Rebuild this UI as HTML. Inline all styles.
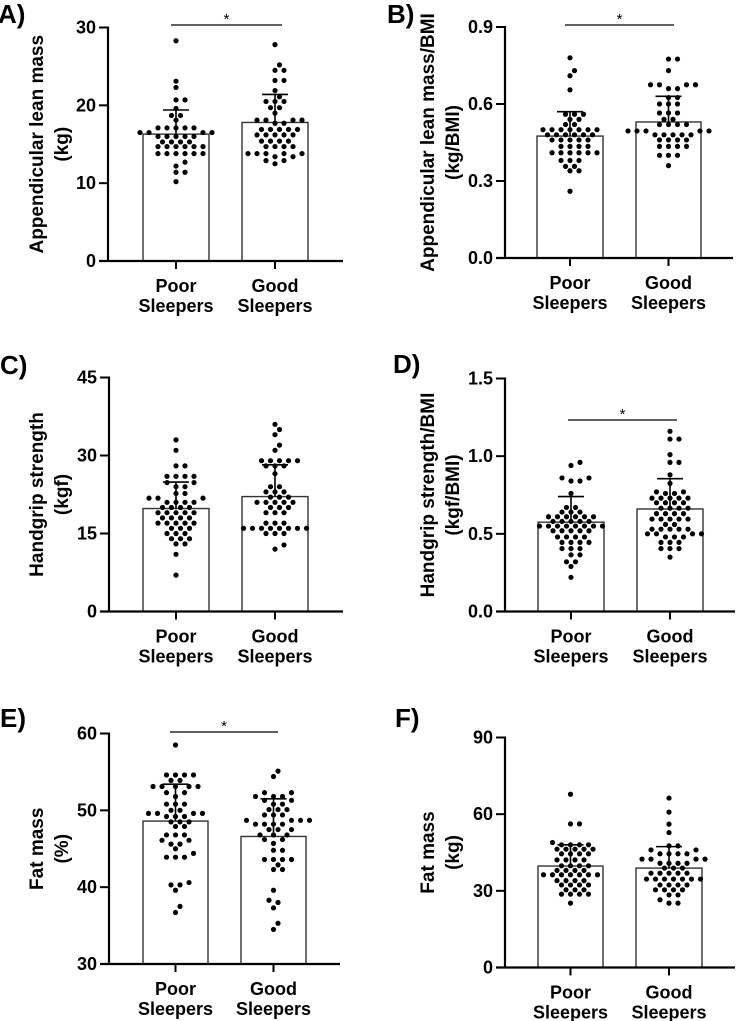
<!DOCTYPE html>
<html><head><meta charset="utf-8"><style>
html,body{margin:0;padding:0;background:#fff;}
svg{display:block;font-family:"Liberation Sans",Arial,sans-serif;font-weight:bold;}
</style></head><body>
<svg id="chart" width="739" height="1021" viewBox="0 0 739 1021" xmlns="http://www.w3.org/2000/svg"></svg>
<script>
const categories = ["Poor", "Good"];
// Panel A
const aPoor = [28.3,23.1,22.3,20.7,20.7,19.6,18.7,18.7,18.1,17.1,17.1,17.1,17.1,17.1,16.5,16.5,16.5,16.5,16.0,16.0,16.0,16.0,16.0,15.3,15.3,15.3,15.3,14.7,14.7,14.7,14.7,14.7,14.7,13.8,13.8,13.8,13.8,13.8,13.8,12.7,12.2,11.4,11.4,10.2];
const aGood = [27.8,25.2,24.5,24.5,23.2,23.2,21.9,21.1,20.5,20.5,20.5,19.7,19.7,19.0,18.1,18.1,18.1,18.1,17.7,17.7,16.9,16.9,16.9,16.9,16.9,16.2,16.2,16.2,16.2,16.2,15.4,15.4,15.4,15.4,14.7,14.7,14.7,14.7,13.8,13.8,13.8,13.8,13.8,13.4,13.4,12.9,12.9,12.5];
const aMeans = [16.3, 17.8];
const aSD = [3.1, 3.6];
const aTicks = [0, 10, 20, 30];
const aTickLabels = ["0", "10", "20", "30"];
// Panel B
const bPoor = [0.78,0.73,0.71,0.655,0.56,0.56,0.56,0.54,0.54,0.52,0.52,0.50,0.50,0.50,0.50,0.50,0.50,0.50,0.48,0.48,0.48,0.48,0.48,0.48,0.46,0.46,0.46,0.46,0.46,0.435,0.435,0.435,0.435,0.41,0.41,0.41,0.41,0.41,0.41,0.38,0.38,0.38,0.357,0.357,0.34,0.34,0.26];
const bGood = [0.775,0.775,0.73,0.675,0.675,0.675,0.675,0.66,0.66,0.625,0.625,0.60,0.60,0.60,0.565,0.565,0.565,0.54,0.54,0.52,0.52,0.52,0.52,0.495,0.495,0.495,0.495,0.495,0.48,0.48,0.48,0.48,0.48,0.46,0.46,0.46,0.46,0.435,0.435,0.435,0.435,0.40,0.40,0.40,0.36];
const bMeans = [0.475, 0.53];
const bSD = [0.095, 0.1];
const bTicks = [0, 0.3, 0.6, 0.9];
const bTickLabels = ["0.0", "0.3", "0.6", "0.9"];
// Panel C
const cPoor = [33,31,28,28,26,26,26,26,24.8,24.8,24,24,22.7,22.7,21.8,21.8,21.8,21,21,21,21,20,20,20,20,19,19,19,19,19,18,18,18,18,17,17,17,17,17,16,16,16,15,15,15,14,14,14,13,13,11,7];
const cGood = [36,35,34,32,31,29,29,29,29,29,28,28,28,26.5,24,24,23,23,23,22,22,22,21,21,21,21,21,20,20,20,19,19,19,17,17,17,16,16,16,16,16,16,16,16,15,15,15,12.8,12];
const cMeans = [19.8, 22.1];
const cSD = [5.1, 6.1];
const cTicks = [0, 15, 30, 45];
const cTickLabels = ["0", "15", "30", "45"];
// Panel D
const dPoor = [0.96,0.94,0.86,0.86,0.84,0.84,0.76,0.67,0.67,0.64,0.64,0.64,0.61,0.61,0.61,0.61,0.61,0.61,0.58,0.58,0.58,0.58,0.58,0.55,0.55,0.55,0.55,0.55,0.55,0.55,0.55,0.52,0.52,0.52,0.52,0.52,0.48,0.48,0.48,0.48,0.445,0.445,0.445,0.445,0.405,0.405,0.405,0.365,0.365,0.32,0.32,0.29,0.22];
const dGood = [1.16,1.11,1.11,1.01,0.96,0.96,0.88,0.825,0.77,0.77,0.76,0.76,0.73,0.73,0.73,0.73,0.73,0.70,0.70,0.70,0.70,0.665,0.665,0.665,0.665,0.63,0.63,0.63,0.63,0.595,0.595,0.595,0.595,0.595,0.56,0.56,0.53,0.53,0.53,0.53,0.53,0.50,0.50,0.50,0.50,0.48,0.48,0.48,0.445,0.445,0.445,0.405,0.405,0.405,0.35];
const dMeans = [0.575, 0.66];
const dSD = [0.165, 0.195];
const dTicks = [0, 0.5, 1.0, 1.5];
const dTickLabels = ["0.0", "0.5", "1.0", "1.5"];
// Panel E
const ePoor = [58.5,54.6,54.6,54.6,54.6,53.9,53.9,53.1,53.1,53.1,53.1,53.1,52.3,52.3,51.8,50.8,50.8,50.8,50.0,50.0,49.6,49.6,49.6,49.6,49.2,49.2,49.2,48.5,48.5,48.5,47.9,47.9,46.8,46.8,46.8,46.1,46.1,45.6,45.6,45.0,44.4,43.9,43.9,43.9,40.6,40.3,40.3,39.6,37.5,36.7];
const eGood = [55.1,54.4,52.3,52.3,51.8,51.8,51.8,51.3,51.3,50.8,50.8,50.1,50.1,50.1,49.4,49.4,49.4,48.7,48.7,48.7,48.7,48.2,48.2,48.2,48.2,47.5,47.5,47.5,46.8,46.8,46.8,46.2,46.2,45.7,44.8,44.8,43.6,43.6,43.6,43.6,42.9,42.3,42.3,39.6,38.3,38.0,37.3,35.3,34.5];
const eMeans = [48.6, 46.6];
const eSD = [4.8, 4.9];
const eTicks = [30, 40, 50, 60];
const eTickLabels = ["30", "40", "50", "60"];
// Panel F
const fPoor = [67.8,56.2,56.2,48.9,48,48,48,48,46.3,46.3,46.3,46.3,46.3,44.5,44.5,44.5,44.5,42.1,42.1,42.1,42.1,39.8,39.8,39.8,39.8,38,38,38,38,36.3,36.3,36.3,36.3,36.3,36.3,36.3,34,34,34,34,32.3,32.3,32.3,32.3,30.4,30.4,30.4,28.7,28.7,28.7,28.7,25.2];
const fGood = [66.3,60.8,56.1,52.8,47.6,47.6,46,46,44.5,44.5,44.5,44.5,42.4,42.4,42.4,42.4,40.8,40.8,40.8,40.8,38.9,38.9,38.9,36.9,36.9,36.9,36.9,36.9,34.6,34.6,34.6,34.6,34.6,34.6,34.6,32.3,32.3,32.3,32.3,30.4,30.4,30.4,30.4,28.4,28.4,26.5,25.2,25.2];
const fMeans = [39.7, 38.9];
const fSD = [8.3, 8.4];
const fTicks = [0, 30, 60, 90];
const fTickLabels = ["0", "30", "60", "90"];

const NS = "http://www.w3.org/2000/svg";
const svg = document.getElementById("chart");
function mk(tag, attrs, parent, txt) {
  const e = document.createElementNS(NS, tag);
  for (const k in attrs) e.setAttribute(k, attrs[k]);
  if (txt !== undefined) e.textContent = txt;
  (parent || svg).appendChild(e);
  return e;
}

function drawPanel(p) {
  const g = mk("g", {});
  
  
  const lo = p.ticks[0], hi = p.ticks[p.ticks.length - 1];
  const y = v => p.yBot - (v - lo) / (hi - lo) * (p.yBot - p.yTop);
  const L = mk("text", {x: p.lx, y: p.ly, "font-size": 26}, g, p.id.toUpperCase() + ")");
  
  
  p.title.forEach((t, i) => {
    const cx = p.ax + p.titleOff[i] + 6, cy = (p.yTop + p.yBot) / 2;
    const T = mk("text", {x: cx, y: cy, "font-size": 19, "text-anchor": "middle", transform: `rotate(-90 ${cx} ${cy})`}, g, t);
    
    
  });
  const groups = [p.poor, p.good];
  groups.forEach((vals, gi) => {
    const [x0, x1] = p.bars[gi];
    const cx = (x0 + x1) / 2;
    const B = mk("rect", {x: x0, y: y(p.means[gi]), width: x1 - x0, height: p.yBot - y(p.means[gi]), fill: "#fff", stroke: "#333", "stroke-width": 1.4}, g);
    
    
    const sorted = vals.slice().sort((a, b) => a - b);
    const placed = [];
    sorted.forEach(v => {
      const py = y(v);
      let off = 0;
      for (let k = 0; k < 60; k++) {
        const cand = k === 0 ? 0 : (k % 2 ? 1 : -1) * Math.ceil(k / 2) * 4.5;
        if (placed.every(q => Math.hypot(q[0] - (cx + cand), q[1] - py) >= 6.2)) { off = cand; break; }
      }
      placed.push([cx + off, py]);
      const d = mk("circle", {cx: cx + off, cy: py, r: 2.6, fill: "#000"}, g);
      
      
    });
    const top = y(p.means[gi] + p.sd[gi]);
    const E = mk("path", {d: `M${cx},${y(p.means[gi])}V${top}M${cx - 13},${top}H${cx + 13}`, stroke: "#000", "stroke-width": 1.6, fill: "none"}, g);
    
    
    mk("line", {x1: cx, x2: cx, y1: p.yBot, y2: p.yBot + 8, stroke: "#000", "stroke-width": 2}, g);
    const t1 = mk("text", {x: cx, y: p.yBot + 31, "font-size": 18, "text-anchor": "middle"}, g, categories[gi]);
    
    
    const t2 = mk("text", {x: cx, y: p.yBot + 51, "font-size": 18, "text-anchor": "middle"}, g, "Sleepers");
    
    
  });
  const ya = mk("line", {x1: p.ax, x2: p.ax, y1: p.yTop - 1, y2: p.yBot + 1, stroke: "#000", "stroke-width": 2.2}, g);
  
  
  const xa = mk("line", {x1: p.ax - 9, x2: p.xEnd, y1: p.yBot, y2: p.yBot, stroke: "#000", "stroke-width": 2.2}, g);
  
  
  p.ticks.forEach((tv, i) => {
    mk("line", {x1: p.ax - 9, x2: p.ax, y1: y(tv), y2: y(tv), stroke: "#000", "stroke-width": 2}, g);
    const tl = mk("text", {x: p.ax - 12, y: y(tv) + 6, "font-size": 18, "text-anchor": "end"}, g, p.tickLabels[i]);
    
    
  });
  if (p.sig) {
    const s = mk("line", {x1: p.sig[0], x2: p.sig[1], y1: p.sig[2], y2: p.sig[2], stroke: "#000", "stroke-width": 1.2}, g);
    
    
    const st = mk("text", {x: (p.sig[0] + p.sig[1]) / 2, y: p.sig[2] - 1, "font-size": 15, "font-weight": "normal", "text-anchor": "middle"}, g, "*");
    
    
  }
}

drawPanel({id: "a", poor: aPoor, good: aGood, means: aMeans, sd: aSD, ticks: aTicks, tickLabels: aTickLabels,
  ax: 108, yTop: 27.5, yBot: 261, xEnd: 343, bars: [[143, 209], [242, 308]], lx: -2, ly: 23,
  title: ["Appendicular lean mass", "(kg)"], titleOff: [-71, -46], sig: [171, 282, 25]});
drawPanel({id: "b", poor: bPoor, good: bGood, means: bMeans, sd: bSD, ticks: bTicks, tickLabels: bTickLabels,
  ax: 505, yTop: 27, yBot: 258, xEnd: 733, bars: [[537, 603], [636, 701]], lx: 387, ly: 23,
  title: ["Appendicular lean mass/BMI", "(kg/BMI)"], titleOff: [-77, -52], sig: [565, 674, 25]});
drawPanel({id: "c", poor: cPoor, good: cGood, means: cMeans, sd: cSD, ticks: cTicks, tickLabels: cTickLabels,
  ax: 109, yTop: 377.5, yBot: 611.5, xEnd: 343, bars: [[143, 209], [242, 308]], lx: 0, ly: 374,
  title: ["Handgrip strength", "(kgf)"], titleOff: [-72, -47], sig: null});
drawPanel({id: "d", poor: dPoor, good: dGood, means: dMeans, sd: dSD, ticks: dTicks, tickLabels: dTickLabels,
  ax: 505, yTop: 378.5, yBot: 611.5, xEnd: 735, bars: [[538, 604], [637, 703]], lx: 393, ly: 373,
  title: ["Handgrip strength/BMI", "(kgf/BMI)"], titleOff: [-77, -52], sig: [568, 677, 420]});
drawPanel({id: "e", poor: ePoor, good: eGood, means: eMeans, sd: eSD, ticks: eTicks, tickLabels: eTickLabels,
  ax: 109, yTop: 733.5, yBot: 964, xEnd: 340, bars: [[143, 208], [241, 306]], lx: 0, ly: 727,
  title: ["Fat mass", "(%)"], titleOff: [-72, -47], sig: [170, 278, 732]});
drawPanel({id: "f", poor: fPoor, good: fGood, means: fMeans, sd: fSD, ticks: fTicks, tickLabels: fTickLabels,
  ax: 505, yTop: 737.5, yBot: 967.5, xEnd: 735, bars: [[538, 603], [636, 702]], lx: 395, ly: 727,
  title: ["Fat mass", "(kg)"], titleOff: [-77, -52], sig: null});
</script>
</body></html>
